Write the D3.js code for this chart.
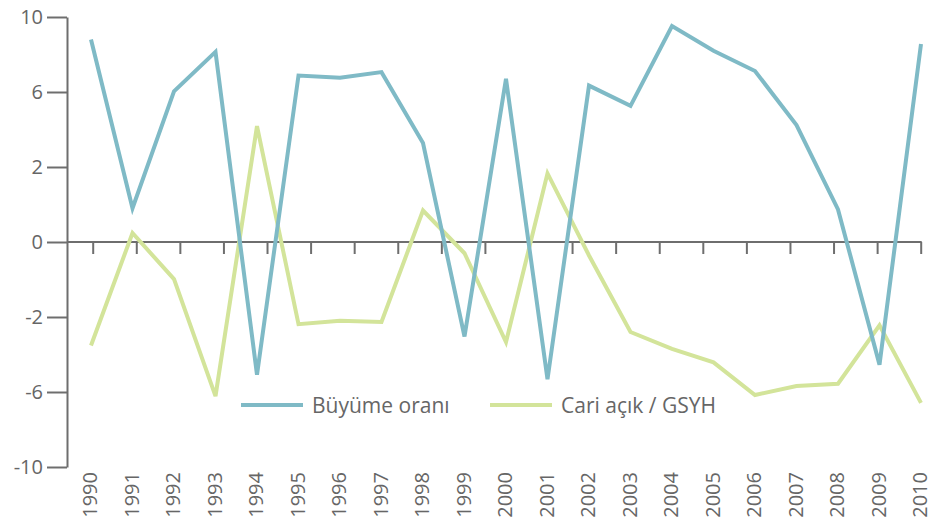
<!DOCTYPE html>
<html>
<head>
<meta charset="utf-8">
<script src="https://cdn.jsdelivr.net/npm/d3@7"></script>
<style>
  html, body { margin: 0; padding: 0; background: #ffffff; }
  svg { display: block; }
  text { font-family: "Open Sans", "DejaVu Sans", sans-serif; fill: #666666; }
</style>
</head>
<body>
<svg id="chart" width="931" height="521"></svg>
<script>
const years = ["1990","1991","1992","1993","1994","1995","1996","1997","1998","1999","2000",
               "2001","2002","2003","2004","2005","2006","2007","2008","2009","2010"];
const growth = [9.0, 1.5, 6.7, 8.45, -5.9, 7.4, 7.3, 7.55, 4.4, -4.2, 7.25,
                -6.1, 6.95, 6.05, 9.6, 8.5, 7.6, 5.2, 1.45, -5.45, 8.8];
const currentAccount = [-4.6, 0.4, -1.65, -6.85, 5.15, -3.65, -3.5, -3.55, 1.4, -0.5, -4.45,
                        3.05, -0.6, -4.0, -4.75, -5.35, -6.8, -6.4, -6.3, -3.7, -7.15];
const yTickValues = [-10, -20/3, -10/3, 0, 10/3, 20/3, 10];
const yTickLabels = ["-10", "-6", "-2", "0", "2", "6", "10"];
const seriesNames = ["Büyüme oranı", "Cari açık / GSYH"];
const seriesColors = ["#7fbac6", "#d3e49a"];

const svg = d3.select("#chart");
const axisColor = "#6e6e6e";

const x = d3.scalePoint().domain(years).range([91, 921]);
const y = d3.scaleLinear().domain([-10, 10]).range([467, 17]);
const tickIdx = d3.range(20);
const xt = d3.scaleLinear().domain([0, 19]).range([92.7, 920.7]);

// y axis
const yAxis = svg.append("g")
  .attr("transform", "translate(67,0)")
  .call(d3.axisLeft(y).tickValues(yTickValues)
        .tickFormat((d, i) => yTickLabels[i]).tickSize(20).tickSizeOuter(0).tickPadding(4));
yAxis.selectAll("path, line").attr("stroke", axisColor).attr("stroke-width", 2);
yAxis.selectAll("text").attr("font-size", 20).style("fill", "#666666")
  .attr("font-family", "Open Sans, DejaVu Sans, sans-serif");

// zero axis with ticks
const xAxis = svg.append("g")
  .attr("transform", `translate(0,${y(0)})`)
  .call(d3.axisBottom(xt).tickValues(tickIdx).tickFormat("").tickSize(12).tickSizeOuter(0));
xAxis.select(".domain").remove();
xAxis.selectAll("line").attr("stroke", axisColor).attr("stroke-width", 2);
svg.append("line")
  .attr("x1", 67).attr("x2", xt(19) + 1)
  .attr("y1", y(0)).attr("y2", y(0))
  .attr("stroke", axisColor).attr("stroke-width", 2);

// year labels
svg.append("g").selectAll("text").data(years).join("text")
  .attr("transform", d => `translate(${x(d) + 6},472) rotate(-90)`)
  .attr("text-anchor", "end")
  .attr("font-size", 20)
  .text(d => d);

// lines
const line = d3.line().x((d, i) => x(years[i])).y(d => y(d));
[currentAccount, growth].forEach((s, k) => {
  svg.append("path")
    .datum(s)
    .attr("fill", "none")
    .attr("stroke", k === 0 ? seriesColors[1] : seriesColors[0])
    .attr("stroke-width", 4)
    .attr("stroke-linejoin", "miter")
    .attr("d", line);
});

// legend
const legend = [
  { name: seriesNames[0], color: seriesColors[0], x0: 241 },
  { name: seriesNames[1], color: seriesColors[1], x0: 490 }
];
const lg = svg.append("g");
legend.forEach(l => {
  lg.append("line").attr("x1", l.x0).attr("x2", l.x0 + 62)
    .attr("y1", 405).attr("y2", 405)
    .attr("stroke", l.color).attr("stroke-width", 4);
  lg.append("text").attr("x", l.x0 + 71).attr("y", 413)
    .attr("font-size", 21).text(l.name);
});
</script>
</body>
</html>
